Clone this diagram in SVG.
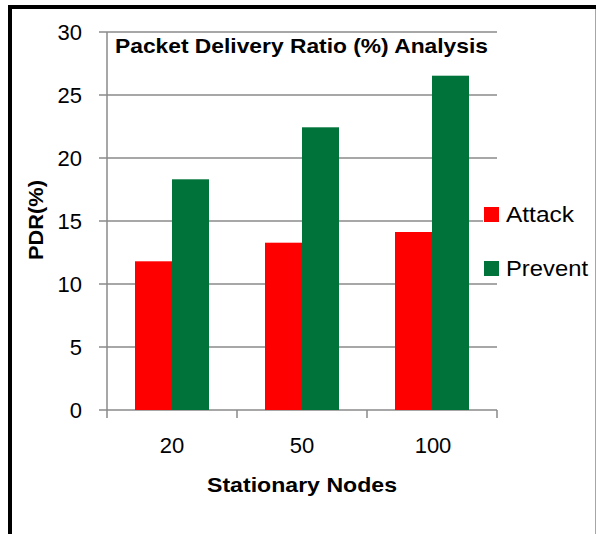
<svg xmlns="http://www.w3.org/2000/svg" width="596" height="534" viewBox="0 0 596 534">
  <style>
    .grid { stroke: #8a8a8a; stroke-width: 1.3; fill: none; }
    .axis { stroke: #8a8a8a; stroke-width: 1.5; fill: none; }
    .num { font-family: "Liberation Sans", Arial, sans-serif; font-size: 22px; fill: #000; }
    .bold { font-family: "Liberation Sans", Arial, sans-serif; font-weight: bold; fill: #000; }
    .attack { fill: #ff0000; }
    .prevent { fill: #00733a; }
  </style>

  <rect width="596" height="534" fill="#fff"/>

  <!-- frame -->
  <g id="frame">
    <line x1="8" y1="7" x2="596" y2="7" stroke="#000" stroke-width="4"/>
    <line x1="10" y1="5" x2="10" y2="534" stroke="#000" stroke-width="4"/>
    <line x1="595.5" y1="9" x2="595.5" y2="534" stroke="#a6a6a6" stroke-width="1"/>
  </g>

  <!-- gridlines and axes -->
  <g id="axes">
    <path class="grid" d="M99 32H497M99 95H497M99 158H497M99 221H497M99 284H497M99 347H497"/>
    <path class="axis" d="M107 32V410M99 410H497M107 410V418M237 410V418M367 410V418M497 410V418"/>
  </g>

  <!-- y tick labels -->
  <g id="y-labels" class="num" text-anchor="end">
    <text x="82" y="40">30</text>
    <text x="82" y="103">25</text>
    <text x="82" y="166">20</text>
    <text x="82" y="229">15</text>
    <text x="82" y="292">10</text>
    <text x="82" y="355">5</text>
    <text x="82" y="418">0</text>
  </g>

  <!-- bars -->
  <g id="series-attack" class="attack">
    <rect x="135" y="261.3" width="37" height="148.7"/>
    <rect x="265" y="242.7" width="37" height="167.3"/>
    <rect x="395" y="232" width="37" height="178"/>
  </g>
  <g id="series-prevent" class="prevent">
    <rect x="172" y="179.3" width="37" height="230.7"/>
    <rect x="302" y="127.3" width="37" height="282.7"/>
    <rect x="432" y="75.7" width="37" height="334.3"/>
  </g>

  <!-- x tick labels -->
  <g id="x-labels" class="num" text-anchor="middle">
    <text x="172" y="453">20</text>
    <text x="302" y="453">50</text>
    <text x="433" y="453">100</text>
  </g>

  <!-- titles -->
  <g id="title">
    <text class="bold" x="115" y="53" font-size="21" textLength="373" lengthAdjust="spacingAndGlyphs">Packet Delivery Ratio (%) Analysis</text>
  </g>
  <g id="x-title">
    <text class="bold" x="207" y="492" font-size="21" textLength="190" lengthAdjust="spacingAndGlyphs">Stationary Nodes</text>
  </g>
  <g id="y-title">
    <text class="bold" transform="translate(43,220) rotate(-90)" text-anchor="middle" font-size="21" textLength="80" lengthAdjust="spacingAndGlyphs">PDR(%)</text>
  </g>

  <!-- legend -->
  <g id="legend">
    <rect x="483" y="196" width="110" height="86" fill="#fff"/>
    <rect class="attack" x="484" y="207" width="15" height="15"/>
    <text class="num" x="506" y="222" textLength="68" lengthAdjust="spacingAndGlyphs">Attack</text>
    <rect class="prevent" x="484" y="261" width="15" height="15"/>
    <text class="num" x="506" y="276" textLength="82" lengthAdjust="spacingAndGlyphs">Prevent</text>
  </g>
</svg>
